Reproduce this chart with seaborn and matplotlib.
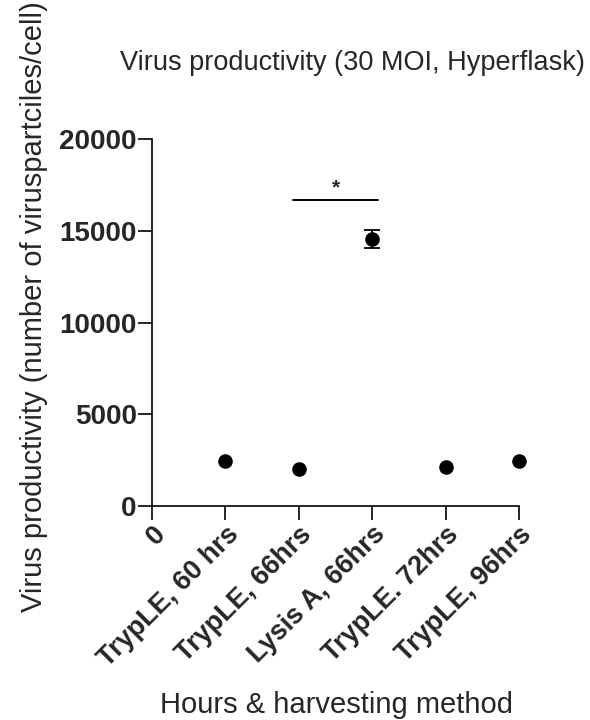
import numpy as np
import pandas as pd
import matplotlib
matplotlib.use("Agg")
import matplotlib.pyplot as plt
import seaborn as sns

# Harvest conditions and measured productivity (virus particles / cell)
conditions = ["TrypLE, 60 hrs", "TrypLE, 66hrs", "Lysis A, 66hrs", "TrypLE. 72hrs", "TrypLE, 96hrs"]
positions = [1, 2, 3, 4, 5]
productivity = [2470, 2020, 14550, 2140, 2470]
sem = [0, 0, 470, 0, 0]
tick_labels = ["0"] + conditions

sns.set_theme(style="ticks")
plt.rcParams['font.family'] = ['Liberation Sans', 'DejaVu Sans']

df = pd.DataFrame({"pos": positions, "value": productivity, "err": sem, "cond": conditions})

fig = plt.figure(figsize=(5.9, 7.2), dpi=100)
ax = fig.add_axes([0.2576, 0.2972, 0.6221, 0.5097])

sns.scatterplot(data=df, x="pos", y="value", ax=ax, color="black", s=110,
                edgecolor="black", linewidth=0, clip_on=False, zorder=3, legend=False)

# error bars only where they exceed the symbol
has_err = df[df["err"] > 0]
ax.errorbar(has_err["pos"], has_err["value"], yerr=has_err["err"], fmt="none",
            ecolor="black", elinewidth=1.3, capsize=5.8, capthick=1.3, zorder=2)

# significance bracket between 66 hr TrypLE and Lysis A
bar_y = 16690
ax.plot([2 - 0.08, 3 + 0.08], [bar_y, bar_y], color="black", lw=1.4, clip_on=False)
ax.text(2.5, bar_y + 150, "*", ha="center", va="bottom", fontsize=15, fontweight="bold")

ax.set_xlim(0, 5)
ax.set_ylim(0, 20000)
ax.set_xticks(range(0, 6))
ax.set_xticklabels(tick_labels, rotation=45, ha="right", rotation_mode="anchor",
                   fontsize=19.5, fontweight="bold")
ax.set_yticks([0, 5000, 10000, 15000, 20000])
ax.set_yticklabels(["0", "5000", "10000", "15000", "20000"], fontsize=20, fontweight="bold")
ax.tick_params(axis="both", direction="out", length=10, width=1.2, color="black", pad=1)

for side in ["left", "bottom"]:
    ax.spines[side].set_linewidth(1.2)
    ax.spines[side].set_color("black")
sns.despine(ax=ax)

ax.set_xlabel("Hours & harvesting method", fontsize=21)
ax.xaxis.set_label_coords(0.504, -0.505)
ax.set_ylabel("Virus productivity (number of viruspartciles/cell)", fontsize=21)
ax.yaxis.set_label_coords(-0.283, 0.542)
ax.set_title("Virus productivity (30 MOI, Hyperflask)", fontsize=19.5, pad=50, x=0.545)

fig.savefig("out.png", dpi=100)
